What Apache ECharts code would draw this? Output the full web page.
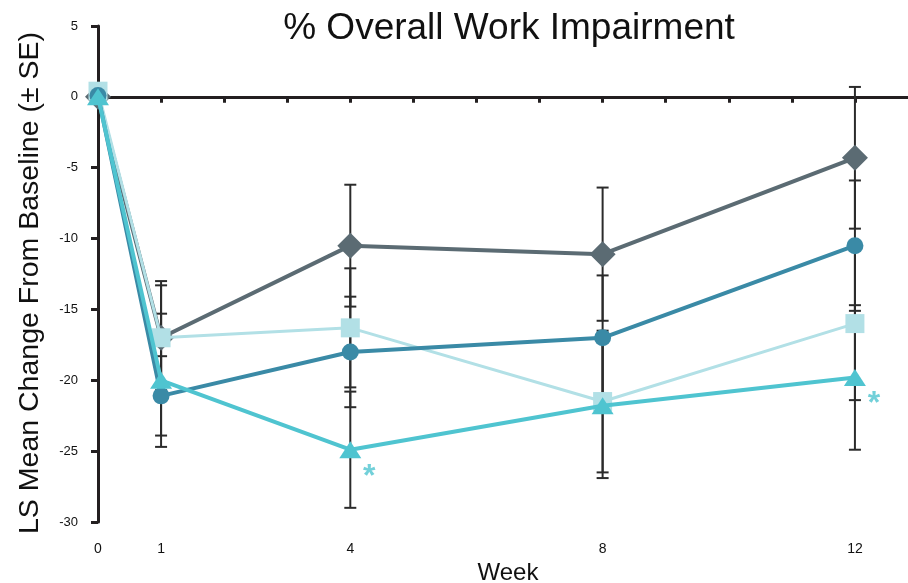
<!DOCTYPE html>
<html>
<head>
<meta charset="utf-8">
<script src="https://cdn.jsdelivr.net/npm/echarts@6/dist/echarts.min.js"></script>
<style>
  html, body { margin: 0; padding: 0; background: #fff; }
  #chart { width: 908px; height: 583px; }
</style>
</head>
<body>
<div id="chart"></div>
<script>
// Study weeks and the labelled week ticks
const weeks = [0, 1, 4, 8, 12];
const weekTickLabels = [0, 1, 4, 8, 12];

// LS mean change from baseline and standard errors per treatment group
const diamondMean = [0, -17.0, -10.5, -11.1, -4.3];
const diamondSE   = [null, 4.0, 4.3, 4.7, 5.0];
const squareMean  = [0.4, -17.0, -16.3, -21.5, -16.0];
const squareSE    = [null, 3.7, 4.2, 5.0, 5.4];
const circleMean  = [0.1, -21.1, -18.0, -17.0, -10.5];
const circleSE    = [null, 2.8, 3.9, 4.4, 4.6];
const triangleMean = [0, -20.0, -24.9, -21.8, -19.8];
const triangleSE   = [null, 4.7, 4.1, 5.1, 5.1];

// Weeks where the triangle group is marked significant
const significantWeeks = [4, 12];

const FONT = "'Liberation Sans', Arial, sans-serif";
const AXIS_COLOR = '#231f20';

const groups = [
  { mean: diamondMean, se: diamondSE, color: '#5b6b73', symbol: 'diamond', size: 26, width: 4 },
  { mean: squareMean, se: squareSE, color: '#b2e0e6', symbol: 'rect', size: 19, width: 3 },
  { mean: circleMean, se: circleSE, color: '#3a8aa6', symbol: 'circle', size: 17, width: 4 },
  { mean: triangleMean, se: triangleSE, color: '#4fc4d0', symbol: 'triangle', size: [22, 17], width: 4 }
];

function pairs(values) {
  return weeks.map((w, i) => [w, values[i]]);
}

function errorBarData(mean, se) {
  const out = [];
  weeks.forEach((w, i) => {
    if (se[i] != null) out.push([w, mean[i] - se[i], mean[i] + se[i]]);
  });
  return out;
}

function renderErrorBar(params, api) {
  const x = api.value(0);
  const lo = api.coord([x, api.value(1)]);
  const hi = api.coord([x, api.value(2)]);
  const half = 6;
  const style = { stroke: '#2b2b2b', lineWidth: 2 };
  return {
    type: 'group',
    children: [
      { type: 'line', shape: { x1: hi[0], y1: hi[1], x2: lo[0], y2: lo[1] }, style },
      { type: 'line', shape: { x1: hi[0] - half, y1: hi[1], x2: hi[0] + half, y2: hi[1] }, style },
      { type: 'line', shape: { x1: lo[0] - half, y1: lo[1], x2: lo[0] + half, y2: lo[1] }, style }
    ]
  };
}

const series = [];

groups.forEach((g) => {
  series.push({
    type: 'custom',
    xAxisIndex: 0,
    renderItem: renderErrorBar,
    encode: { x: 0, y: [1, 2] },
    data: errorBarData(g.mean, g.se),
    z: 1,
    silent: true
  });
});

groups.forEach((g, k) => {
  series.push({
    type: 'line',
    xAxisIndex: 0,
    data: pairs(g.mean),
    symbol: g.symbol,
    symbolSize: g.size,
    showAllSymbol: true,
    lineStyle: { color: g.color, width: g.width },
    itemStyle: { color: g.color, borderWidth: 0 },
    z: 2 + k,
    silent: true,
    animation: false
  });
});

// Significance asterisks beside the triangle group's points
series.push({
  type: 'scatter',
  xAxisIndex: 0,
  data: significantWeeks.map((w) => [w, triangleMean[weeks.indexOf(w)]]),
  symbolSize: 1,
  itemStyle: { color: 'rgba(0,0,0,0)' },
  label: {
    show: true,
    formatter: '*',
    position: 'inside',
    offset: [19, 27],
    color: '#4fc4d0',
    fontSize: 32,
    fontWeight: 'bold',
    fontFamily: FONT
  },
  z: 10,
  silent: true
});

const chart = echarts.init(document.getElementById('chart'), null, { renderer: 'canvas' });

chart.setOption({
  animation: false,
  backgroundColor: '#ffffff',
  title: {
    text: '% Overall Work Impairment',
    left: 504,
    top: 5,
    textAlign: 'center',
    textStyle: { fontFamily: FONT, fontSize: 37, fontWeight: 'normal', color: '#111' }
  },
  grid: { left: 98, right: -10, top: 26, bottom: 61, containLabel: false, outerBoundsMode: 'none' },
  xAxis: [
    {
      type: 'value',
      min: 0,
      max: 13,
      interval: 1,
      position: 'top',
      axisLine: { onZero: true, lineStyle: { color: AXIS_COLOR, width: 3 } },
      axisTick: { show: true, inside: true, length: 6, lineStyle: { color: AXIS_COLOR, width: 3 } },
      axisLabel: { show: false },
      splitLine: { show: false }
    },
    {
      type: 'value',
      min: 0,
      max: 13,
      interval: 1,
      position: 'bottom',
      axisLine: { show: false, onZero: false },
      axisTick: { show: false },
      splitLine: { show: false },
      axisLabel: {
        margin: 20,
        fontFamily: FONT,
        fontSize: 14,
        color: '#111',
        formatter: (v) => (weekTickLabels.indexOf(v) >= 0 ? String(v) : '')
      },
      name: 'Week',
      nameLocation: 'middle',
      nameGap: 38,
      nameTextStyle: { fontFamily: FONT, fontSize: 24, color: '#111' }
    }
  ],
  yAxis: {
    type: 'value',
    min: -30,
    max: 5,
    interval: 5,
    axisLine: { show: true, onZero: false, lineStyle: { color: AXIS_COLOR, width: 3 } },
    axisTick: { show: true, length: 7, lineStyle: { color: AXIS_COLOR, width: 3 } },
    axisLabel: { margin: 20, fontFamily: FONT, fontSize: 13, color: '#111' },
    splitLine: { show: false },
    name: 'LS Mean Change From Baseline (± SE)',
    nameLocation: 'middle',
    nameGap: 53,
    nameTextStyle: { fontFamily: FONT, fontSize: 28.5, color: '#111', padding: [0, 18, 0, 0] }
  },
  series: series
});
</script>
</body>
</html>
